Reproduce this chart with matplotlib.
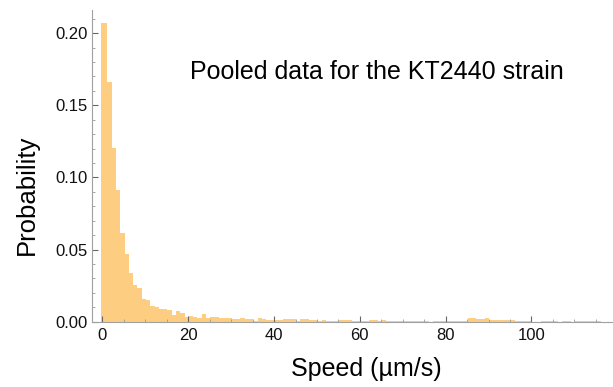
import numpy as np
import matplotlib
matplotlib.use('Agg')
import matplotlib.pyplot as plt
from matplotlib.ticker import MultipleLocator, FormatStrFormatter

# probability per 1 um/s speed bin
probs = [
	0.2067, 0.1663, 0.1201, 0.0912, 0.0617, 0.0467, 0.0339, 0.0254, 0.0236, 0.0159,
	0.0150, 0.0109, 0.0099, 0.0088, 0.0086, 0.0081, 0.0046, 0.0074, 0.0062, 0.0035,
	0.0042, 0.0035, 0.0028, 0.0053, 0.0028, 0.0032, 0.0032, 0.0028, 0.0025, 0.0025,
	0.0018, 0.0018, 0.0025, 0.0018, 0.0016, 0.0007, 0.0025, 0.0018, 0.0012, 0.0012,
	0.0012, 0.0012, 0.0018, 0.0018, 0.0018, 0.0005, 0.0018, 0.0018, 0.0012, 0.0012,
	0.0007, 0.0012, 0.0005, 0.0005, 0.0005, 0.0012, 0.0012, 0.0012, 0.0003, 0.0003,
	0.0003, 0.0003, 0.0012, 0.0012, 0.0003, 0.0012, 0.0003, 0.0003, 0.0003, 0.0003,
	0.0003, 0.0003, 0.0003, 0.0003, 0.0003, 0.0008, 0.0000, 0.0004, 0.0004, 0.0004,
	0.0004, 0.0004, 0.0004, 0.0004, 0.0004, 0.0025, 0.0025, 0.0018, 0.0018, 0.0025,
	0.0012, 0.0012, 0.0012, 0.0012, 0.0012, 0.0012, 0.0005, 0.0005, 0.0003, 0.0003,
	0.0000, 0.0000, 0.0005, 0.0005, 0.0005, 0.0005, 0.0000, 0.0005, 0.0005, 0.0000,
	0.0005, 0.0005, 0.0005, 0.0005, 0.0005, 0.0005,
]
bin_start = 0.15
first_left = -0.3

title_text = 'Pooled data for the KT2440 strain'
x_label = 'Speed (\u00b5m/s)'
y_label = 'Probability'

plt.rcParams['font.family'] = ['Liberation Sans', 'DejaVu Sans']

fig = plt.figure(figsize=(6.13, 3.87), dpi=100)
ax = fig.add_axes([91.7/613, 1 - 322/387, 1 - 91.7/613, (322 - 10)/387])

edges = np.arange(len(probs) + 1) + bin_start
edges[0] = first_left
ax.stairs(probs, edges, fill=True, color='#fdce82', zorder=1)

ax.set_xlim(-2.5, 119)
ax.set_ylim(-0.0002, 0.216)

for s in ['top', 'right']:
	ax.spines[s].set_visible(False)
for s in ['left', 'bottom']:
	ax.spines[s].set_color('#a0a0a0')
	ax.spines[s].set_linewidth(0.8)
	ax.spines[s].set_zorder(3)

ax.xaxis.set_major_locator(MultipleLocator(20))
ax.xaxis.set_minor_locator(MultipleLocator(5))
ax.yaxis.set_major_locator(MultipleLocator(0.05))
ax.yaxis.set_minor_locator(MultipleLocator(0.01))
ax.yaxis.set_major_formatter(FormatStrFormatter('%.2f'))

ax.tick_params(which='major', direction='in', length=4.5, width=0.8, color='#666666',
			   labelsize=12, labelcolor='#111111')
ax.tick_params(which='minor', direction='in', length=2.5, width=0.6, color='#9a9a9a')
ax.tick_params(axis='x', which='major', pad=4)
ax.tick_params(axis='y', which='major', pad=3)

fig.text(376.5/613, 1 - 72/387, title_text, fontsize=18, ha='center', va='center')
fig.text(366/613, 1 - 369/387, x_label, fontsize=18, ha='center', va='center')
fig.text(27/613, 1 - 195/387, y_label, fontsize=18.5, ha='center', va='center', rotation=90)

plt.savefig('out.png', dpi=100)
